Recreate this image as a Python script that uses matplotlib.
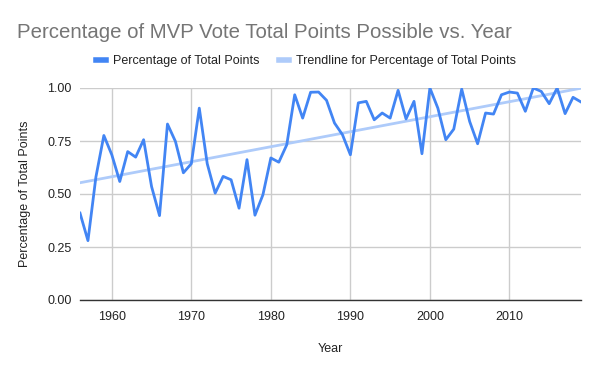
import matplotlib
matplotlib.use("Agg")
import matplotlib.pyplot as plt
import numpy as np

years = list(range(1956, 2020))
pct_total = [0.41, 0.28, 0.58, 0.776, 0.685, 0.559, 0.70, 0.674, 0.756, 0.535,
             0.398, 0.83, 0.748, 0.60, 0.643, 0.905, 0.643, 0.504, 0.583, 0.567,
             0.433, 0.662, 0.40, 0.496, 0.67, 0.65, 0.732, 0.968, 0.858, 0.98,
             0.981, 0.942, 0.835, 0.78, 0.685, 0.93, 0.937, 0.85, 0.882, 0.858,
             0.989, 0.854, 0.937, 0.69, 1.0, 0.905, 0.756, 0.806, 0.995, 0.842,
             0.737, 0.882, 0.877, 0.968, 0.981, 0.976, 0.89, 1.0, 0.984, 0.926,
             1.0, 0.879, 0.956, 0.934]
x_ticks = [1960, 1970, 1980, 1990, 2000, 2010]
y_ticks = [0.0, 0.25, 0.5, 0.75, 1.0]

plt.rcParams['font.family'] = ['Liberation Sans', 'DejaVu Sans']

fig = plt.figure(figsize=(6, 3.71), dpi=100)
ax = fig.add_axes([80/600, 1-300/371, 501/600, 212/371])

yr = np.array(years, dtype=float)
vals = np.array(pct_total)
coef = np.polyfit(yr, vals, 1)
trend = np.polyval(coef, yr)

ax.plot(yr, trend, color='#aecbfa', lw=2, label='Trendline for Percentage of Total Points', zorder=2)
ax.plot(yr, vals, color='#4285f4', lw=2, label='Percentage of Total Points', zorder=3)

ax.set_xlim(1956, 2019)
ax.set_ylim(0, 1.0)
ax.set_xticks(x_ticks)
ax.set_yticks(y_ticks)
ax.set_yticklabels([f"{v:.2f}" for v in y_ticks])
ax.grid(True, color='#cccccc', lw=1)
ax.set_axisbelow(True)
for s in ['top', 'right', 'left']:
    ax.spines[s].set_visible(False)
ax.spines['bottom'].set_color('#333333')
ax.spines['bottom'].set_linewidth(1)
ax.spines['bottom'].set_zorder(4)
ax.tick_params(axis='both', length=0, labelsize=9, colors='#222222')
ax.tick_params(axis='x', pad=8)
ax.tick_params(axis='y', pad=6)

ax.set_xlabel('Year', fontsize=9, color='#222222', labelpad=14)
ax.set_ylabel('Percentage of Total Points', fontsize=9, color='#222222', labelpad=12)

fig.text(17/600, 1-33/371, 'Percentage of MVP Vote Total Points Possible vs. Year',
         fontsize=14.7, color='#757575', va='center', ha='left')

handles, labels = ax.get_legend_handles_labels()
leg = fig.legend(handles[::-1], labels[::-1], loc='center', bbox_to_anchor=(306/600, 1-61/371),
                 ncol=2, frameon=False, fontsize=9, handlelength=0.8, handletextpad=0.6,
                 columnspacing=1.5)
for h in leg.legend_handles:
    h.set_linewidth(4)
for t in leg.get_texts():
    t.set_color('#222222')

fig.savefig('out.png', dpi=100)
